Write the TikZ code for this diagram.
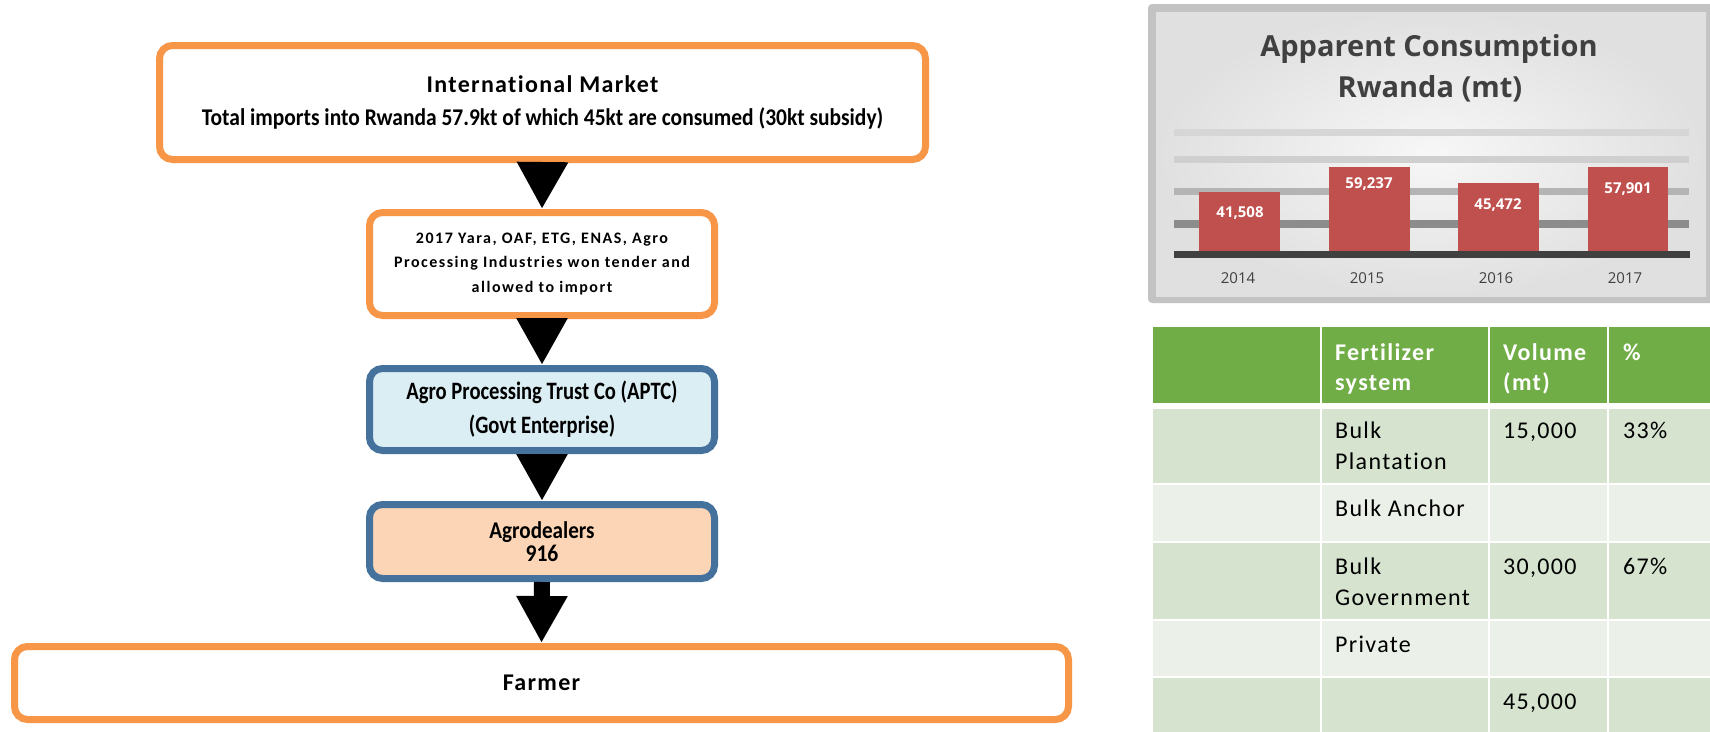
\documentclass[tikz,border=0pt]{standalone}
\usepackage{fontspec}
\usepackage{graphicx}
\setmainfont[Ligatures=NoCommon]{Carlito}
\newfontfamily\lsf[LetterSpace=5.5,Ligatures=NoCommon]{Carlito}
\newfontfamily\lsfw[LetterSpace=9.5,Ligatures=NoCommon]{Carlito}
\newfontfamily\osans{Open Sans}
\usetikzlibrary{arrows.meta}
\definecolor{orng}{HTML}{F79646}
\definecolor{blu}{HTML}{44729D}
\definecolor{lblue}{HTML}{DBEEF4}
\definecolor{peach}{HTML}{FBD5B5}
\definecolor{barred}{HTML}{C0504D}
\definecolor{dgrey}{HTML}{404040}
\definecolor{hgreen}{HTML}{70AD47}
\definecolor{rowa}{HTML}{D5E3CF}
\definecolor{rowb}{HTML}{EBF1E9}
\definecolor{framegr}{HTML}{C3C3C3}
\definecolor{bgin}{HTML}{F7F7F7}
\definecolor{bgout}{HTML}{E0E0E0}
\definecolor{gla}{HTML}{D6D6D6}
\definecolor{glb}{HTML}{CFCFCF}
\definecolor{glc}{HTML}{B4B4B4}
\definecolor{gld}{HTML}{8C8C8C}
\newcommand{\cond}[2]{\scalebox{#1}[1]{#2}}
\begin{document}
\begin{tikzpicture}[x=1pt,y=-1pt,
  box/.style={draw=orng, line width=7pt, rounded corners=13pt, fill=white, inner sep=0pt, align=center},
  bluebox/.style={box, draw=blu},
  flowarrow/.style={line width=16pt, black, -{Triangle[length=47pt,width=48pt]}},
  celltext/.style={anchor=base west, inner sep=0pt, font=\lsf\fontsize{24}{30}\selectfont},
  headtext/.style={celltext, text=white, font=\lsf\bfseries\fontsize{24}{30}\selectfont},
  barlbl/.style={anchor=base, inner sep=0pt, text=white, font=\osans\bfseries\fontsize{15}{15}\selectfont},
  yearlbl/.style={anchor=base, inner sep=0pt, text=dgrey, font=\osans\fontsize{15}{15}\selectfont},
  titletext/.style={anchor=base, inner sep=0pt, text=dgrey, font=\osans\bfseries\fontsize{29}{29}\selectfont}
]
\useasboundingbox (0,0) rectangle (1710,731);
\fill[white] (0,0) rectangle (1710,731);

% ---------- flow ----------
\node[box, minimum width=766pt, minimum height=114pt, font=\bfseries\fontsize{24}{33}\selectfont] (im) at (542.5,102.5)
  {{\lsf International Market}\\\cond{0.895}{Total imports into Rwanda 57.9kt of which 45kt are consumed (30kt subsidy)}};
\node[box, minimum width=345pt, minimum height=103pt, font=\lsfw\bfseries\fontsize{16}{24.5}\selectfont] (ten) at (542,264)
  {2017 Yara, OAF, ETG, ENAS, Agro\\Processing Industries won tender and\\allowed to import};
\node[bluebox, fill=lblue, minimum width=345pt, minimum height=82pt, font=\bfseries\fontsize{25}{34}\selectfont] (aptc) at (542,409.5)
  {\cond{0.825}{Agro Processing Trust Co (APTC)}\\\cond{0.825}{(Govt Enterprise)}};
\node[bluebox, fill=peach, minimum width=345pt, minimum height=74pt, font=\bfseries\fontsize{24}{23}\selectfont] (agro) at (542,541.5)
  {\cond{0.88}{Agrodealers}\\\cond{0.9}{916}};
\node[box, minimum width=1054pt, minimum height=73pt, font=\lsf\bfseries\fontsize{24}{30}\selectfont] (farm) at (541.5,683)
  {Farmer};

\draw[flowarrow] (im.south) -- (ten.north);
\draw[flowarrow] (ten.south) -- (aptc.north);
\draw[flowarrow] (aptc.south) -- (agro.north);
\draw[flowarrow] (agro.south) -- (farm.north);

% ---------- chart ----------
\fill[framegr, rounded corners=4pt] (1148,4) rectangle (1724,303);
\shade[inner color=bgin, outer color=bgout] (1156,12) rectangle (1706,296);
\node[titletext] (t1) at (1429,56) {Apparent Consumption};
\node[titletext] (t2) at (1430,97) {Rwanda (mt)};
\fill[gla] (1174,129) rectangle (1689,136);
\fill[glb] (1174,156) rectangle (1689,163);
\fill[glc] (1174,188) rectangle (1689,195);
\fill[gld] (1174,220) rectangle (1689,228);
\fill[barred] (1199,192) rectangle (1280,251);
\fill[barred] (1329,167) rectangle (1410,251);
\fill[barred] (1458,183) rectangle (1539,251);
\fill[barred] (1588,167) rectangle (1668,251);
\fill[dgrey] (1174,251) rectangle (1690,258);
\node[barlbl] (v1) at (1240,217) {41,508};
\node[barlbl] (v2) at (1369,188) {59,237};
\node[barlbl] (v3) at (1498,209) {45,472};
\node[barlbl] (v4) at (1628,193) {57,901};
\node[yearlbl] (y1) at (1238,283) {2014};
\node[yearlbl] (y2) at (1367,283) {2015};
\node[yearlbl] (y3) at (1496,283) {2016};
\node[yearlbl] (y4) at (1625,283) {2017};

% ---------- table ----------
\foreach \xa/\xb in {1153/1320,1322/1488,1490/1607,1609/1724}{
  \fill[hgreen] (\xa,327) rectangle (\xb,403);
  \fill[rowa] (\xa,409) rectangle (\xb,483);
  \fill[rowb] (\xa,485) rectangle (\xb,541);
  \fill[rowa] (\xa,543) rectangle (\xb,619);
  \fill[rowb] (\xa,621) rectangle (\xb,676);
  \fill[rowa] (\xa,678) rectangle (\xb,740);
}
\node[headtext] (h1) at (1335,360) {Fertilizer};
\node[headtext] (h2) at (1335,390) {system};
\node[headtext] (h3) at (1503,360) {Volume};
\node[headtext] (h4) at (1503,390) {(mt)};
\node[headtext] (h5) at (1623,360) {\%};
\node[celltext] (a1) at (1335,438) {Bulk};
\node[celltext] (a2) at (1335,469) {Plantation};
\node[celltext] (a3) at (1503,438) {15,000};
\node[celltext] (a4) at (1623,438) {33\%};
\node[celltext] (b1) at (1335,516) {Bulk Anchor};
\node[celltext] (c1) at (1335,574) {Bulk};
\node[celltext] (c2) at (1335,605) {Government};
\node[celltext] (c3) at (1503,574) {30,000};
\node[celltext] (c4) at (1623,574) {67\%};
\node[celltext] (d1) at (1335,652) {Private};
\node[celltext] (e1) at (1503,709) {45,000};
\end{tikzpicture}
\end{document}
